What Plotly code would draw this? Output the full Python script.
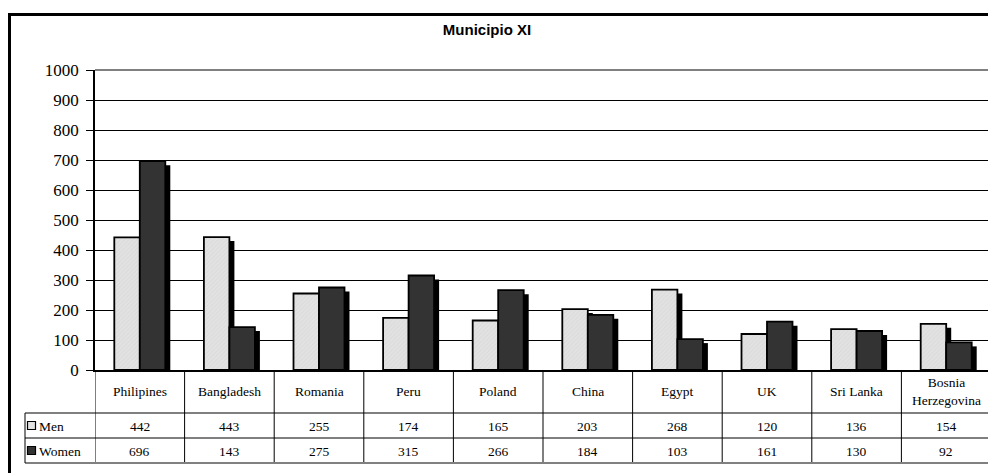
import plotly.graph_objects as go

# ---- data ----
categories = ["Philipines", "Bangladesh", "Romania", "Peru", "Poland", "China",
              "Egypt", "UK", "Sri Lanka", "Bosnia<br>Herzegovina"]
men = [442, 443, 255, 174, 165, 203, 268, 120, 136, 154]
women = [696, 143, 275, 315, 266, 184, 103, 161, 130, 92]
series_names = ["Men", "Women"]
y_ticks = [0, 100, 200, 300, 400, 500, 600, 700, 800, 900, 1000]

# ---- geometry (pixels, in page coordinates; page body has 8px margin) ----
PAGE_W, PAGE_H = 996, 473
OFF = 8
W, H = PAGE_W - OFF, PAGE_H - OFF
PLOT_L, PLOT_R, PLOT_T, PLOT_B = 95, 991, 70, 370
L = PLOT_L - OFF
T = PLOT_T - OFF
R = W - (PLOT_R - OFF)
B = H - (PLOT_B - OFF)
PW, PH = PLOT_R - PLOT_L, PLOT_B - PLOT_T
YMAX = 1000
px_per_cat = PW / len(categories)
bar_w = 25.5 / px_per_cat
shadow_dx = 5 / px_per_cat
shadow_dy = 4 * YMAX / PH

def py(ypix):  # page pixel y -> paper y
    return (PLOT_B - ypix) / PH

def px(xpix):  # page pixel x -> paper x
    return (xpix - PLOT_L) / PW

serif = "Liberation Serif, Times New Roman, serif"
MEN_COL = "#e2e2e2"
WOMEN_COL = "#333333"

x_idx = list(range(len(categories)))

fig = go.Figure()
# shadows
fig.add_bar(x=x_idx, y=[v - shadow_dy for v in men], base=0, width=bar_w,
            offset=-bar_w + shadow_dx, marker=dict(color="black", line=dict(width=0)),
            showlegend=False, hoverinfo="skip")
fig.add_bar(x=x_idx, y=[v - shadow_dy for v in women], base=0, width=bar_w,
            offset=shadow_dx, marker=dict(color="black", line=dict(width=0)),
            showlegend=False, hoverinfo="skip")
# bars
fig.add_bar(x=x_idx, y=men, width=bar_w, offset=-bar_w, name=series_names[0],
            marker=dict(color=MEN_COL, line=dict(color="black", width=1.8),
                        pattern=dict(shape="/", fgcolor="#d0d0d0", size=3, solidity=0.3)),
            showlegend=False)
fig.add_bar(x=x_idx, y=women, width=bar_w, offset=0, name=series_names[1],
            marker=dict(color=WOMEN_COL, line=dict(color="black", width=1.8)),
            showlegend=False)

shapes = []
annotations = []

# plot-area border (top) in gray
shapes.append(dict(type="line", xref="paper", yref="paper", x0=0, x1=1, y0=1, y1=1,
                   line=dict(color="#808080", width=2)))
# table geometry
row_cat_top, row_men_top, row_wom_top, row_bot = 370, 413, 438, 463
legend_left = 25
ybot = py(row_bot)
# vertical dividers
for k in range(len(categories) + 1):
    xk = k - 0.5
    if k == len(categories):
        shapes.append(dict(type="line", xref="x", yref="paper", x0=xk, x1=xk, y0=1, y1=ybot,
                           line=dict(color="#808080", width=2)))
    else:
        shapes.append(dict(type="line", xref="x", yref="paper", x0=xk, x1=xk, y0=0, y1=ybot,
                           line=dict(color="black", width=1)))
# horizontal lines
for yy, col, wd in [(row_men_top, "black", 1), (row_wom_top, "black", 1), (row_bot, "#808080", 2)]:
    shapes.append(dict(type="line", xref="paper", yref="paper", x0=px(legend_left), x1=1,
                       y0=py(yy), y1=py(yy), line=dict(color=col, width=wd)))
# legend column left edge
shapes.append(dict(type="line", xref="paper", yref="paper", x0=px(legend_left), x1=px(legend_left),
                   y0=py(row_men_top), y1=ybot, line=dict(color="black", width=1)))

# category labels
cat_mid = py((row_cat_top + row_men_top) / 2)
for i, c in enumerate(categories):
    annotations.append(dict(x=i, y=cat_mid, xref="x", yref="paper", text=c, showarrow=False,
                            xanchor="center", yanchor="middle",
                            font=dict(family=serif, size=13.5, color="black")))
# value rows
rows = [(men, row_men_top, row_wom_top, MEN_COL, series_names[0]),
        (women, row_wom_top, row_bot, WOMEN_COL, series_names[1])]
for vals, top, bot, col, nm in rows:
    mid = py((top + bot) / 2 + 1)
    for i, v in enumerate(vals):
        annotations.append(dict(x=i, y=mid, xref="x", yref="paper", text=str(v), showarrow=False,
                                xanchor="center", yanchor="middle",
                                font=dict(family=serif, size=13.5, color="black")))
    # legend key
    cy = (top + bot) / 2
    shapes.append(dict(type="rect", xref="paper", yref="paper", x0=px(27.5), x1=px(35.5),
                       y0=py(cy - 4), y1=py(cy + 4), fillcolor=col,
                       line=dict(color="black", width=1.2)))
    annotations.append(dict(x=px(37), y=mid, xref="paper", yref="paper", text=nm, showarrow=False,
                            xanchor="left", yanchor="middle",
                            font=dict(family=serif, size=13.5, color="black")))

# outer chart border
shapes.append(dict(type="rect", xref="paper", yref="paper", x0=px(9.5), x1=px(PAGE_W + 20),
                   y0=py(14.5), y1=py(PAGE_H + 20), line=dict(color="black", width=3),
                   fillcolor="rgba(0,0,0,0)"))

fig.update_layout(
    width=W, height=H, autosize=False,
    margin=dict(l=L, r=R, t=T, b=B, pad=0),
    paper_bgcolor="white", plot_bgcolor="white",
    barmode="overlay",
    title=dict(text="<b>Municipio XI</b>", x=px(487), xref="paper", xanchor="center",
               y=1 - (30 - OFF) / H, yref="container", yanchor="middle",
               font=dict(family="Liberation Sans, Arial, sans-serif", size=15, color="black")),
    shapes=shapes, annotations=annotations,
    xaxis=dict(range=[-0.5, len(categories) - 0.5], showticklabels=False, ticks="",
               showgrid=False, zeroline=False, showline=True, linecolor="black", linewidth=1.5,
               fixedrange=True),
    yaxis=dict(range=[0, YMAX], tickvals=y_ticks, ticktext=[str(t) for t in y_ticks],
               ticks="outside", ticklen=7, tickcolor="black", tickwidth=1,
               showgrid=True, gridcolor="black", gridwidth=1, zeroline=False,
               showline=True, linecolor="black", linewidth=1.5, ticklabelstandoff=4,
               tickfont=dict(family=serif, size=17, color="black"), fixedrange=True),
    showlegend=False,
)

fig.write_html("out.html")
